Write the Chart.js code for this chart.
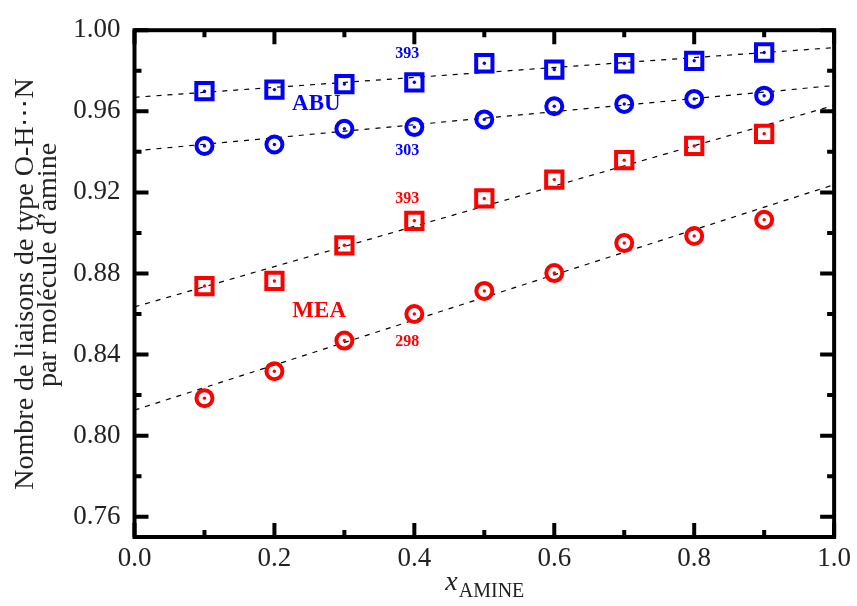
<!DOCTYPE html>
<html>
<head>
<meta charset="utf-8">
<script src="https://cdn.jsdelivr.net/npm/chart.js@4/dist/chart.umd.min.js"></script>
<style>
html,body{margin:0;padding:0;background:#fff;}
#c{display:block;}
</style>
</head>
<body>
<canvas id="c" width="857" height="606"></canvas>
<script>
// ---- data ----
const xAmine = [0.1, 0.2, 0.3, 0.4, 0.5, 0.6, 0.7, 0.8, 0.9];
const abu393 = [0.9699, 0.9707, 0.9734, 0.9743, 0.9837, 0.9806, 0.9837, 0.9849, 0.9890];
const abu303 = [0.9429, 0.9436, 0.9514, 0.9522, 0.9560, 0.9625, 0.9636, 0.9661, 0.9677];
const mea393 = [0.8738, 0.8763, 0.8939, 0.9060, 0.9170, 0.9263, 0.9359, 0.9429, 0.9489];
const mea298 = [0.8185, 0.8318, 0.8469, 0.8600, 0.8714, 0.8802, 0.8950, 0.8985, 0.9065];
const fitX = [0, 1];
const fitAbu393 = [0.9669, 0.9914];
const fitAbu303 = [0.9405, 0.9727];
const fitMea393 = [0.8635, 0.9629];
const fitMea298 = [0.8126, 0.9238];
const xTicks = [0.0, 0.2, 0.4, 0.6, 0.8, 1.0];
const xMinorTicks = [0.1, 0.3, 0.5, 0.7, 0.9];
const yTicks = [0.76, 0.80, 0.84, 0.88, 0.92, 0.96, 1.00];
const yMinorTicks = [0.78, 0.82, 0.86, 0.90, 0.94, 0.98];
const yTitle1 = "Nombre de liaisons de type O-H\u22EFN";
const yTitle2 = "par mol\u00E9cule d\u2019amine";
const annotations = [
  {text: "393", x: 0.39, y: 0.9883, color: "#0000ff", size: 16},
  {text: "ABU", x: 0.26, y: 0.9638, color: "#0000ff", size: 23},
  {text: "303", x: 0.39, y: 0.9406, color: "#0000ff", size: 16},
  {text: "393", x: 0.39, y: 0.9170, color: "#ff0000", size: 16},
  {text: "MEA", x: 0.264, y: 0.8616, color: "#ff0000", size: 23},
  {text: "298", x: 0.39, y: 0.8465, color: "#ff0000", size: 16}
];

const BLUE = "#0000ff", RED = "#ff0000";
const SERIF = "'Liberation Serif', 'DejaVu Serif', serif";

function pts(xs, ys){ return xs.map((x,i)=>({x:x, y:ys[i]})); }

function fitDs(ys){
  return {type:'line', data: pts(fitX, ys), borderColor:'#000', borderWidth:1.2,
    borderDash:[5,6], pointRadius:0, fill:false, order:3, tension:0};
}
function markDs(ys, color, style){
  return {data: pts(xAmine, ys), showLine:false, pointStyle: style,
    pointRadius: style==='rect' ? 11.5 : 8, borderColor: color, borderWidth: 4,
    backgroundColor:'rgba(255,255,255,0)', pointHoverRadius:0, order:2};
}
function dotDs(ys, color){
  return {data: pts(xAmine, ys), showLine:false, pointStyle:'circle',
    pointRadius:1.7, borderWidth:0, backgroundColor: color, order:1};
}

const framePlugin = {
  id:'frame',
  afterDatasetsDraw(chart){
    const {ctx, chartArea:a, scales} = chart;
    const xs = scales.x, ys = scales.y;
    ctx.save();
    ctx.strokeStyle = '#000';
    ctx.lineWidth = 4;
    ctx.lineCap = 'butt';
    const MAJ = 14, MIN = 7;
    ctx.beginPath();
    xTicks.forEach(v=>{ const px = xs.getPixelForValue(v);
      ctx.moveTo(px, a.bottom); ctx.lineTo(px, a.bottom-MAJ);
      ctx.moveTo(px, a.top); ctx.lineTo(px, a.top+MAJ); });
    xMinorTicks.forEach(v=>{ const px = xs.getPixelForValue(v);
      ctx.moveTo(px, a.bottom); ctx.lineTo(px, a.bottom-MIN);
      ctx.moveTo(px, a.top); ctx.lineTo(px, a.top+MIN); });
    yTicks.forEach(v=>{ const py = ys.getPixelForValue(v);
      ctx.moveTo(a.left, py); ctx.lineTo(a.left+MAJ, py);
      ctx.moveTo(a.right, py); ctx.lineTo(a.right-MAJ, py); });
    yMinorTicks.forEach(v=>{ const py = ys.getPixelForValue(v);
      ctx.moveTo(a.left, py); ctx.lineTo(a.left+MIN, py);
      ctx.moveTo(a.right, py); ctx.lineTo(a.right-MIN, py); });
    ctx.stroke();
    ctx.lineJoin = 'miter';
    ctx.strokeRect(a.left, a.top, a.right-a.left, a.bottom-a.top);

    annotations.forEach(t=>{
      ctx.font = 'bold ' + t.size + 'px ' + SERIF;
      ctx.fillStyle = t.color;
      ctx.textAlign = 'center';
      ctx.textBaseline = 'middle';
      ctx.fillText(t.text, xs.getPixelForValue(t.x), ys.getPixelForValue(t.y));
    });

    ctx.fillStyle = '#222';
    ctx.font = '28px ' + SERIF;
    ctx.textAlign = 'center';
    ctx.textBaseline = 'alphabetic';
    ctx.save(); ctx.translate(33, 284); ctx.rotate(-Math.PI/2);
    ctx.fillText(yTitle1, 0, 0); ctx.restore();
    ctx.save(); ctx.translate(56, 265); ctx.rotate(-Math.PI/2);
    ctx.fillText(yTitle2, 0, 0); ctx.restore();

    const cx = (a.left + a.right)/2;
    ctx.textAlign = 'left';
    ctx.font = 'italic 28px ' + SERIF;
    const wx = ctx.measureText('x').width;
    ctx.font = '20px ' + SERIF;
    const ws = ctx.measureText('AMINE').width;
    const x0 = cx - (wx+ws)/2;
    ctx.font = 'italic 28px ' + SERIF;
    ctx.fillText('x', x0, 590);
    ctx.font = '20px ' + SERIF;
    ctx.fillText('AMINE', x0+wx+1, 597);
    ctx.restore();
  }
};

new Chart(document.getElementById('c'), {
  type:'scatter',
  data:{ datasets:[
    fitDs(fitAbu393), fitDs(fitAbu303), fitDs(fitMea393), fitDs(fitMea298),
    markDs(abu393, BLUE, 'rect'), markDs(abu303, BLUE, 'circle'),
    markDs(mea393, RED, 'rect'), markDs(mea298, RED, 'circle'),
    dotDs(abu393, BLUE), dotDs(abu303, BLUE), dotDs(mea393, RED), dotDs(mea298, RED)
  ]},
  options:{
    responsive:false, animation:false, devicePixelRatio:1,
    layout:{padding:{top:27, right:18, left:0, bottom:0}},
    plugins:{legend:{display:false}, tooltip:{enabled:false}},
    events:[],
    scales:{
      x:{type:'linear', min:0, max:1,
        grid:{display:false, drawTicks:false}, border:{display:false},
        afterBuildTicks(s){ s.ticks = xTicks.map(v=>({value:v})); },
        afterFit(s){ s.height = 69; },
        ticks:{padding:6, color:'#222', font:{family:SERIF, size:27},
          maxRotation:0, autoSkip:false, callback:v=>Number(v).toFixed(1)}
      },
      y:{type:'linear', min:0.75, max:1.0,
        grid:{display:false, drawTicks:false}, border:{display:false},
        afterBuildTicks(s){ s.ticks = yTicks.map(v=>({value:v})); },
        afterFit(s){ s.width = 134.5; },
        ticks:{padding:14, color:'#222', font:{family:SERIF, size:27},
          autoSkip:false, callback:v=>Number(v).toFixed(2)}
      }
    }
  },
  plugins:[framePlugin]
});
</script>
</body>
</html>
